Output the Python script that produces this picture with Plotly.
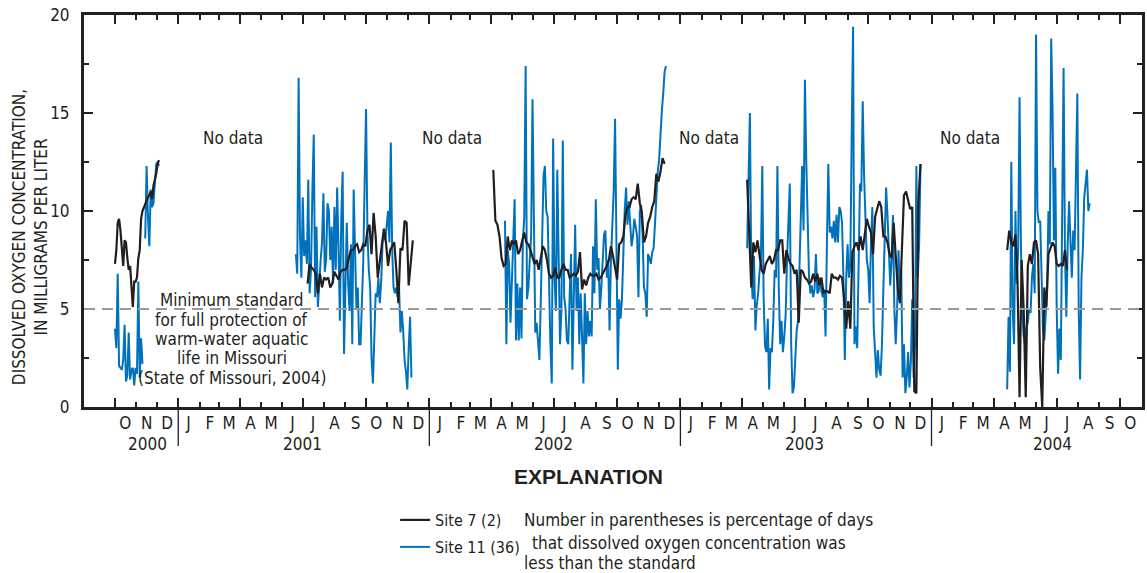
import pandas as pd
import plotly.graph_objects as go

INK = "#231f20"
BLUE = "#0072bc"
FONT = "Liberation Sans Narrow, Arial Narrow, DejaVu Sans Condensed, sans-serif"

# ---------------- data (dissolved oxygen, mg/L) ----------------
# Site 7 segments: (start date, sampling step in days, values)
site7_2000_start, site7_2000_step = "2000-10-01", 2
site7_2000 = [7.3, 8.0, 9.4, 9.6, 9.0, 8.2, 7.2, 8.5, 8.4, 7.6, 7.0, 7.2, 6.3, 5.1, 6.4, 6.4,
              6.6, 7.6, 8.0, 9.6, 10.0, 10.2, 10.3, 10.6, 10.7, 10.8, 11.0, 10.6, 11.3, 11.6,
              11.9, 12.4, 12.6]
site7_2001_start, site7_2001_step = "2001-07-08", 3
site7_2001 = [6.3, 7.3, 7.1, 7.0, 6.8, 5.8, 6.8, 6.1, 6.6, 6.5, 6.6, 6.1, 6.3, 6.9, 6.7, 6.5,
              6.9, 7.0, 7.0, 7.1, 7.6, 8.0, 8.0, 8.2, 8.3, 7.9, 8.0, 8.3, 8.2, 9.0, 9.3, 7.8,
              9.9, 8.7, 6.6, 7.5, 8.5, 9.1, 8.4, 7.2, 8.0, 8.2, 8.4, 7.0, 5.3, 8.1, 8.0, 9.5,
              9.4, 6.2, 7.5, 8.5]
site7_2002_start, site7_2002_step = "2002-04-04", 3
site7_2002 = [12.1, 9.5, 9.3, 8.7, 7.6, 7.2, 7.3, 8.7, 8.0, 8.5, 8.3, 8.5, 7.8, 8.0, 8.5, 8.9,
              8.4, 8.3, 8.0, 7.7, 7.3, 7.5, 7.0, 7.6, 8.2, 8.0, 7.5, 6.8, 6.6, 6.7, 7.1, 6.6,
              6.6, 7.0, 7.3, 7.0, 7.0, 6.6, 6.7, 6.8, 6.7, 6.9, 7.9, 6.0, 6.5, 6.2, 6.6, 6.8,
              6.7, 6.7, 6.8, 6.5, 6.6, 6.8, 7.0, 7.2, 7.5, 8.2, 7.7, 7.0, 6.5, 8.3, 8.4, 8.7,
              9.8, 10.2, 10.2, 10.6, 10.7, 10.6, 11.4, 10.4, 9.9, 8.4, 8.7, 9.4, 9.7, 10.2,
              10.5, 11.9, 11.5, 12.0, 12.7, 12.4]
site7_2003_start, site7_2003_step = "2003-04-08", 3
site7_2003 = [11.6, 8.3, 6.1, 8.4, 7.9, 8.5, 7.8, 7.0, 6.8, 7.3, 7.5, 7.7, 7.3, 7.5, 8.0, 8.0,
              8.5, 8.5, 6.8, 8.0, 7.6, 7.3, 7.2, 6.8, 7.0, 4.3, 7.0, 6.9, 6.6, 6.5, 6.3, 6.4,
              6.8, 6.4, 6.8, 6.2, 6.6, 5.8, 5.9, 5.9, 5.8, 6.8, 6.6, 6.6, 6.5, 6.7, 6.6, 5.5,
              4.0, 5.4, 4.0, 7.9, 8.2, 8.4, 8.0, 8.7, 8.0, 8.9, 9.6, 9.2, 8.9, 7.8, 9.7, 10.1,
              10.5, 10.2, 8.7, 8.7, 8.4, 7.8, 7.6, 9.4, 7.4, 6.0, 5.3, 8.0, 10.8, 11.0, 10.5,
              10.1, 10.2, 0.8, 0.7, 10.5, 12.4]
site7_2004_start, site7_2004_step = "2004-04-20", 3
site7_2004 = [8.0, 9.0, 8.4, 8.2, 8.8, 6.5, 0.5, 7.5, 5.0, 0.5, 7.2, 7.8, 7.3, 8.4, 8.5, 7.8,
              2.0, 0.0, 6.1, 5.1, 7.8, 8.1, 8.4, 8.2, 7.3, 7.2, 7.3, 7.2, 8.0, 7.0]

# Site 11 segments
site11_2000_start, site11_2000_step = "2000-10-01", 2
site11_2000 = [4.0, 3.0, 6.8, 2.1, 2.0, 1.9, 2.4, 4.2, 1.3, 1.6, 3.8, 1.4, 1.9, 2.0, 1.1, 2.0,
               1.7, 6.4, 1.5, 3.5, 2.2, None, 8.6, 12.3, 9.7, 8.2, 11.1, 10.2, 10.4, 11.3,
               12.4, 12.5, 12.3]
site11_2001_start, site11_2001_step = "2001-06-21", 2
site11_2001 = [7.8, 6.8, 16.8, 8.7, 6.6, 10.7, 7.7, 8.5, 7.3, 11.6, 5.8, 7.0, 11.0, 13.9, 5.6,
               9.2, 5.1, 6.7, 7.5, 8.4, 10.9, 6.9, 7.5, 10.4, 10.0, 7.5, 9.2, 6.3, 10.2, 7.0,
               11.2, 8.0, 4.4, 9.7, 12.0, 2.7, 5.8, 9.4, 6.3, 4.9, 8.3, 3.2, 11.1, 7.3, 5.0,
               6.1, 3.2, 3.2, 5.3, 7.5, 11.5, 15.2, 9.0, 7.0, 6.1, 2.5, 1.2, 3.7, 5.8, 5.6,
               6.6, 5.3, 6.4, 8.4, 8.9, 8.5, 9.5, 10.0, 8.4, 13.5, 8.0, 6.1, 5.8, 6.1, 5.6,
               6.1, 3.8, 4.9, 3.9, 2.4, 1.8, 0.9, 3.0, 4.6, 1.5]
site11_2002_start, site11_2002_step = "2002-04-21", 2
site11_2002 = [9.5, 3.2, 8.0, 7.3, 4.3, 6.8, 8.4, 10.6, 3.4, 6.3, 3.4, 6.1, 3.5, 8.5, 9.7, 17.4,
               5.5, 6.1, 7.5, 8.7, 15.7, 9.0, 3.8, 4.3, 3.2, 2.4, 5.4, 8.4, 11.8, 12.3, 10.0,
               9.7, 5.3, 3.2, 1.2, 13.7, 6.6, 4.9, 12.1, 7.5, 3.2, 4.9, 13.6, 5.6, 5.0, 3.4,
               3.2, 5.7, 7.8, 1.9, 5.0, 9.3, 4.9, 6.6, 3.2, 5.8, 3.6, 1.2, 5.8, 3.2, 4.9, 3.6,
               4.4, 3.6, 8.2, 5.8, 10.6, 7.0, 7.6, 5.0, 6.1, 7.5, 8.8, 9.0, 6.6, 7.5, 3.9, 7.5,
               9.0, 11.0, 14.7, 9.5, 1.9, 5.5, 4.5, 5.5, 8.4, 10.0, 11.2, 9.3, 10.5, 9.0, 8.2,
               8.7, 9.6, 9.2, 8.7, 5.6, 10.0, 10.3, 8.8, 6.1, 5.8, 4.6, 7.8, 7.6, 7.3, 7.9,
               8.1, 9.3, 10.8, 12.0, 12.6, 14.0, 15.1, 16.0, 17.1, 17.4]
site11_2003_start, site11_2003_step = "2003-04-08", 2
site11_2003 = [8.1, 11.7, 15.0, 7.0, 5.5, 7.7, 3.9, 5.2, 5.8, 6.9, 7.5, 12.3, 5.5, 3.1, 2.8,
               4.5, 0.9, 3.0, 2.8, 4.4, 7.0, 6.6, 12.3, 6.0, 3.2, 4.4, 2.8, 3.6, 4.7, 7.5,
               10.0, 11.4, 3.2, 0.7, 1.0, 2.5, 3.9, 4.4, 7.2, 10.0, 12.3, 9.0, 16.7, 12.5,
               10.0, 6.6, 5.8, 6.2, 5.6, 6.0, 7.8, 5.8, 5.9, 6.6, 5.9, 5.6, 6.0, 3.6, 8.4,
               12.4, 8.9, 9.2, 8.6, 9.5, 8.4, 9.8, 8.4, 10.2, 10.0, 9.4, 6.5, 2.4, 6.6, 8.3,
               6.6, 7.3, 14.0, 19.4, 3.2, 4.1, 3.0, 7.8, 11.4, 11.0, 15.6, 11.8, 9.0, 7.5,
               7.0, 5.3, 8.3, 10.2, 4.1, 3.0, 1.5, 2.9, 1.9, 1.6, 3.2, 6.0, 8.7, 11.2, 9.8,
               7.5, 6.2, 7.5, 9.8, 5.0, 3.2, 5.0, 8.0, 5.8, 7.0, 1.5, 3.2, 0.7, 1.5, 2.8, 1.0,
               2.3, 5.5, 1.5, 3.2, 12.3, 6.6, 8.3, 12.4]
site11_2004_start, site11_2004_step = "2004-04-20", 2
site11_2004 = [0.9, 4.6, 1.8, 12.5, 5.0, 3.2, 10.0, 6.3, 8.0, 15.8, 8.3, 4.7, 3.6, 3.2, 4.1,
               4.3, 5.0, 4.8, 6.6, 7.3, 5.8, 19.0, 10.0, 9.4, 9.5, 6.6, 4.0, 3.4, 5.0, 6.0,
               10.0, 8.3, 18.8, 15.1, 8.5, 12.2, 5.0, 1.7, 4.0, 2.4, 10.0, 17.3, 8.0, 4.6,
               8.3, 10.5, 8.5, 6.6, 9.0, 8.0, 12.0, 16.0, 5.0, 1.4, 6.6, 8.0, 10.7, 11.6,
               12.1, 10.0, 10.4]

standard_value = 5.0

# axis labels
month_letters = ["J", "F", "M", "A", "M", "J", "J", "A", "S", "O", "N", "D"]
years = ["2000", "2001", "2002", "2003", "2004"]
year_label_dates = ["2000-11-17", "2001-07-01", "2002-07-01", "2003-07-01", "2004-06-25"]
no_data_dates = ["2001-03-21", "2002-02-03", "2003-02-12", "2004-02-26"]
axis_range = ["2000-08-17", "2004-11-02"]


def build(segments):
    xs, ys = [], []
    for start, step, vals in segments:
        dates = pd.date_range(start, periods=len(vals), freq=f"{step}D")
        if xs:
            xs.append(dates[0] - pd.Timedelta(days=1))
            ys.append(None)
        xs.extend(dates)
        ys.extend(vals)
    return xs, ys


x7, y7 = build([(site7_2000_start, site7_2000_step, site7_2000),
                (site7_2001_start, site7_2001_step, site7_2001),
                (site7_2002_start, site7_2002_step, site7_2002),
                (site7_2003_start, site7_2003_step, site7_2003),
                (site7_2004_start, site7_2004_step, site7_2004)])
x11, y11 = build([(site11_2000_start, site11_2000_step, site11_2000),
                  (site11_2001_start, site11_2001_step, site11_2001),
                  (site11_2002_start, site11_2002_step, site11_2002),
                  (site11_2003_start, site11_2003_step, site11_2003),
                  (site11_2004_start, site11_2004_step, site11_2004)])

# tick positions
month_starts = pd.date_range("2000-10-01", "2004-11-01", freq="MS")
quarter_starts = [d for d in month_starts if d.month in (1, 4, 7, 10)]
mid_months = [d + pd.Timedelta(days=15) for d in month_starts if d < pd.Timestamp("2004-11-01")]
mid_text = [month_letters[d.month - 1] for d in mid_months]
year_starts = ["2001-01-01", "2002-01-01", "2003-01-01", "2004-01-01"]

fig = go.Figure()
fig.add_trace(go.Scatter(x=x11, y=y11, mode="lines", name="Site 11 (36)",
                         line=dict(color=BLUE, width=2), legend="legend2"))
fig.add_trace(go.Scatter(x=x7, y=y7, mode="lines", name="Site 7 (2)",
                         line=dict(color=INK, width=2.2), legend="legend"))
# helper trace for month-letter axis
fig.add_trace(go.Scatter(x=[mid_months[0]], y=[None], xaxis="x2", yaxis="y",
                         showlegend=False, hoverinfo="skip"))

tickfont = dict(family=FONT, size=17, color=INK)


def px_x(p):
    return (p - 84) / 1061


def px_y(p):
    return (407 - p) / 392


fig.update_layout(
    width=1147, height=573,
    margin=dict(l=84, r=2, t=15, b=166),
    paper_bgcolor="white", plot_bgcolor="white",
    font=dict(family=FONT, size=17, color=INK),
    xaxis=dict(type="date", range=axis_range, showline=True, linewidth=3, linecolor=INK,
               mirror="ticks", ticks="inside", tickvals=quarter_starts, ticklen=9,
               tickwidth=1.5, tickcolor=INK, showticklabels=False, showgrid=False,
               zeroline=False,
               minor=dict(tickvals=list(month_starts), ticks="inside", ticklen=5,
                          tickwidth=1.5, tickcolor=INK, showgrid=False)),
    xaxis2=dict(type="date", range=axis_range, overlaying="x", anchor="y", side="bottom",
                tickmode="array", tickvals=mid_months, ticktext=mid_text, ticks="",
                showline=False, showgrid=False, zeroline=False, tickfont=tickfont,
                ticklabelstandoff=4),
    yaxis=dict(range=[0, 20], tickvals=[0, 5, 10, 15, 20], ticks="inside", ticklen=9,
               tickwidth=1.5, tickcolor=INK, showline=True, linewidth=3, linecolor=INK,
               mirror="ticks", showgrid=False, zeroline=False, tickfont=tickfont,
               ticklabelstandoff=8,
               minor=dict(tickvals=[2.5, 7.5, 12.5, 17.5], ticks="inside", ticklen=5,
                          tickwidth=1.5, tickcolor=INK, showgrid=False)),
    legend=dict(x=px_x(396), y=px_y(520), xanchor="left", yanchor="middle",
                font=dict(family=FONT, size=16, color=INK), bgcolor="rgba(0,0,0,0)",
                borderwidth=0),
    legend2=dict(x=px_x(396), y=px_y(547), xanchor="left", yanchor="middle",
                 font=dict(family=FONT, size=16, color=INK), bgcolor="rgba(0,0,0,0)",
                 borderwidth=0),
)

# minimum standard line
fig.add_shape(type="line", xref="paper", yref="y", x0=0, x1=1, y0=standard_value,
              y1=standard_value, line=dict(color="#9a9a9a", width=2, dash="11px,7px"),
              layer="above")

# year separators below the axis
for d in year_starts:
    fig.add_shape(type="line", xref="x", yref="paper", x0=d, x1=d,
                  y0=px_y(410), y1=px_y(446), line=dict(color=INK, width=1.3))

for label, d in zip(years, year_label_dates):
    fig.add_annotation(x=d, xref="x", y=px_y(444), yref="paper", text=label,
                       showarrow=False, font=tickfont, xanchor="center", yanchor="middle")

for d in no_data_dates:
    fig.add_annotation(x=d, xref="x", y=13.7, yref="y", text="No data", showarrow=False,
                       xanchor="center", yanchor="middle",
                       font=dict(family=FONT, size=17, color=INK))

standard_lines = ["Minimum standard", "for full protection of", "warm-water aquatic",
                  "life in Missouri", "(State of Missouri, 2004)"]
standard_y = [5.46, 4.44, 3.47, 2.5, 1.48]
for t, yv in zip(standard_lines, standard_y):
    fig.add_annotation(x="2001-03-20", xref="x", y=yv, yref="y", text=t, showarrow=False,
                       xanchor="center", yanchor="middle",
                       font=dict(family=FONT, size=17, color=INK))

# y-axis title
fig.add_annotation(text="DISSOLVED OXYGEN CONCENTRATION,<br>IN MILLIGRAMS PER LITER",
                   xref="paper", yref="paper", x=px_x(30), y=px_y(237),
                   textangle=-90, showarrow=False, xanchor="center", yanchor="middle",
                   font=dict(family=FONT, size=17, color=INK))

fig.add_annotation(text="<b>EXPLANATION</b>", xref="paper", yref="paper",
                   x=px_x(590), y=px_y(476), showarrow=False,
                   xanchor="center", yanchor="middle",
                   font=dict(family="Liberation Sans, Arial, sans-serif", size=21, color=INK))

expl_lines = ["Number in parentheses is percentage of days",
              "that dissolved oxygen concentration was",
              "less than the standard"]
expl_x = [523, 531, 523]
expl_y = [520, 543, 563]
for t, xp, yp in zip(expl_lines, expl_x, expl_y):
    fig.add_annotation(text=t, xref="paper", yref="paper", x=px_x(xp),
                       y=px_y(yp), showarrow=False, xanchor="left",
                       yanchor="middle", font=dict(family=FONT, size=17, color=INK))

fig.write_html("out.html")
